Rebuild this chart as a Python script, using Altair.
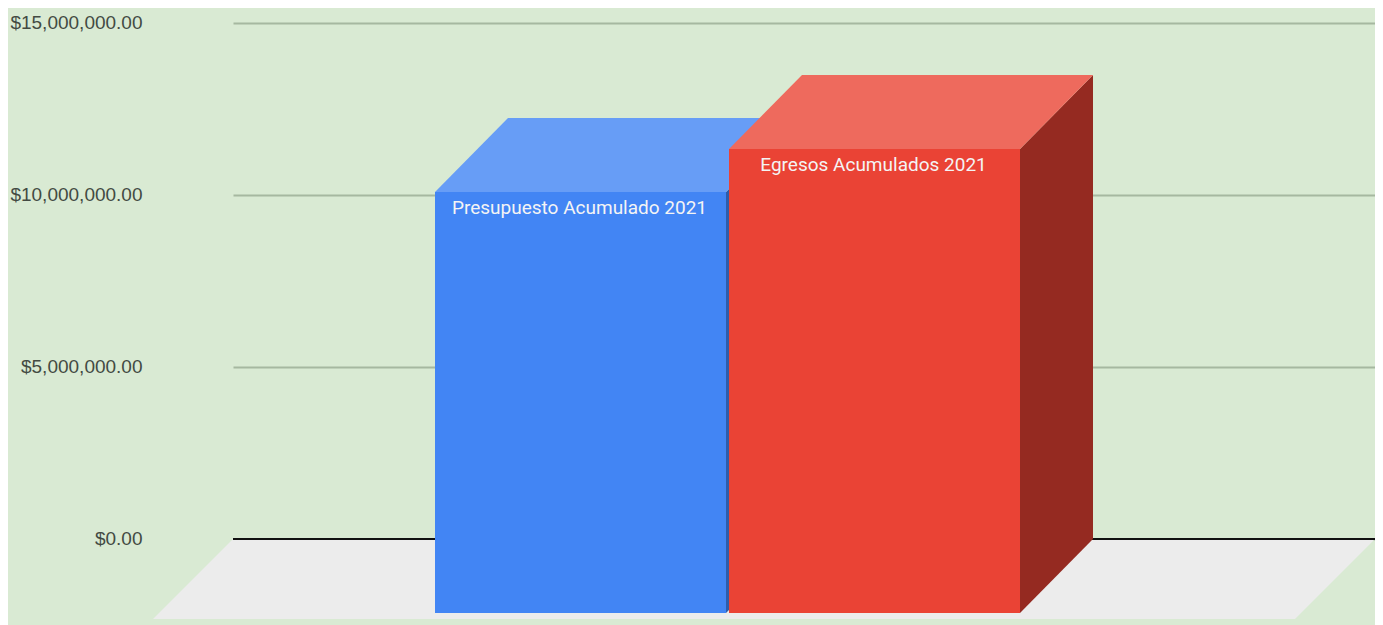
import altair as alt
import pandas as pd

categories = ["Presupuesto Acumulado 2021", "Egresos Acumulados 2021"]
values = [12240000, 13490000]
tick_values = [0, 5000000, 10000000, 15000000]

BG = "#d9ead3"
FRONT = ["#4285f4", "#ea4335"]
TOP = ["#679df6", "#ee6a5d"]
SIDE = ["#2e5dab", "#952a21"]

# shared scales: x in plot units, y in dollars
W, H = 1142, 516
xs = alt.Scale(domain=[0, W], range=[0, W], nice=False, zero=False)
ys = alt.Scale(domain=[0, 15000000], range=[H, 0], nice=False, zero=False)
PER_PX = 15000000 / H
DX = 73                       # depth offset, x units
DY = 74 * PER_PX              # depth offset, dollars
FLOOR_DY = 80 * PER_PX
BAR_W = 291
BAR_X = [202, 496]


def X(f="x", **k):
    return alt.X(f"{f}:Q", scale=xs, title=None, axis=None, **k)


def Y(f="y", **k):
    return alt.Y(f"{f}:Q", scale=ys, title=None, axis=None, **k)


def h_face(rows, color):
    # parallelogram with horizontal edges
    df = pd.DataFrame(rows, columns=["y", "x", "x2"])
    return alt.Chart(df).mark_area(orient="horizontal", color=color).encode(
        y=Y("y"), x=X("x"), x2="x2:Q")


def v_face(rows, color):
    # parallelogram with vertical edges
    df = pd.DataFrame(rows, columns=["x", "y", "y2"])
    return alt.Chart(df).mark_area(orient="vertical", color=color).encode(
        x=X("x"), y=Y("y"), y2="y2:Q")


def rect(x0, x1, y0, y1, color):
    df = pd.DataFrame([[x0, x1, y0, y1]], columns=["x", "x2", "y", "y2"])
    return alt.Chart(df).mark_rect(color=color).encode(
        x=X("x"), x2="x2:Q", y=Y("y"), y2="y2:Q")


# axis and gridlines
axis_df = pd.DataFrame({"v": tick_values})
axis_layer = alt.Chart(axis_df).mark_rule(opacity=0).encode(
    y=alt.Y("v:Q", scale=ys, title=None,
            axis=alt.Axis(values=tick_values, format="$,.2f", domain=False, ticks=False,
                          labelPadding=91, labelFontSize=19, labelFont="Liberation Sans",
                          labelOffset=-1, labelColor="#434a43", grid=True,
                          gridColor="#a6b8a0", gridWidth=2, gridOpacity=1)))

layers = [axis_layer]

# floor
layers.append(h_face([[-FLOOR_DY, -80, W - 80], [0, 0, W]], "#ececec"))

# zero line
zero_df = pd.DataFrame({"x": [0], "x2": [W], "y": [0]})
layers.append(alt.Chart(zero_df).mark_rule(color="#111111", strokeWidth=2).encode(
    x=X("x"), x2="x2:Q", y=Y("y")))

# bars
for i, (name, v) in enumerate(zip(categories, values)):
    x0, x1 = BAR_X[i], BAR_X[i] + BAR_W
    layers.append(v_face([[x1, -DY, v - DY], [x1 + DX, 0, v]], SIDE[i]))
    layers.append(h_face([[v - DY, x0, x1], [v, x0 + DX, x1 + DX]], TOP[i]))
    layers.append(rect(x0, x1, -DY, v - DY, FRONT[i]))
    lab = pd.DataFrame({"x": [(x0 + x1) / 2 - 1], "y": [v - DY], "t": [name]})
    layers.append(alt.Chart(lab).mark_text(
        font="Roboto", fontSize=19, color="#f4f4f4", baseline="middle", align="center", dy=16
    ).encode(x=X("x"), y=Y("y"), text="t:N"))

chart = alt.layer(*layers).resolve_axis(y="independent").properties(
    width=W, height=H, background=BG,
    autosize=alt.AutoSizeParams(type="none"),
    padding={"left": 225, "top": 15, "right": 0, "bottom": 86},
).configure_view(stroke=None)

chart.save("out.html", embed_options={"renderer": "svg", "actions": False})
